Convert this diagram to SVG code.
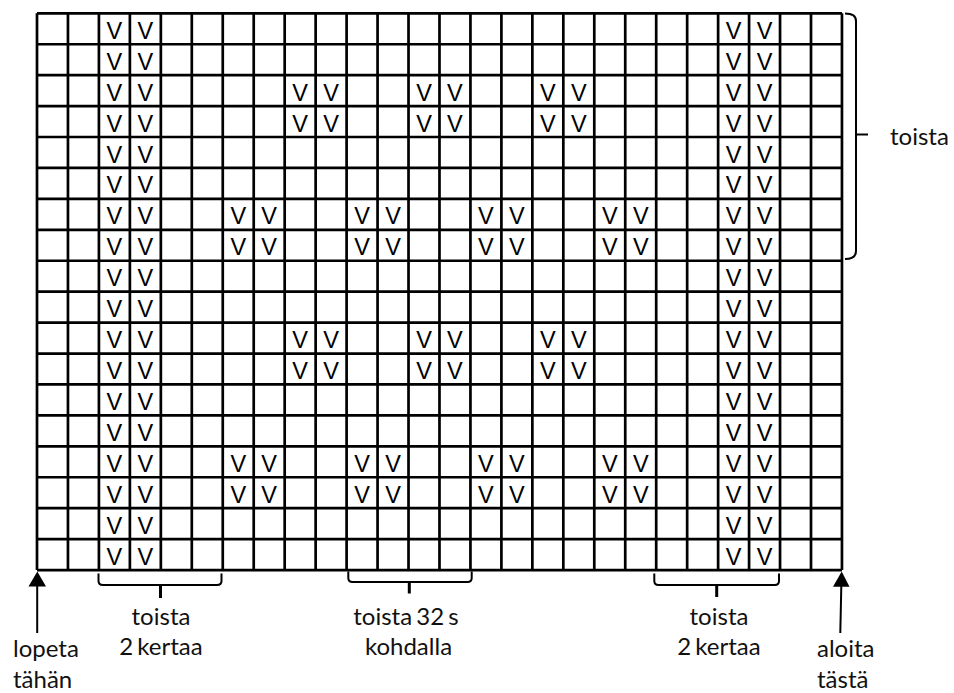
<svg xmlns="http://www.w3.org/2000/svg" width="954" height="693" viewBox="0 0 954 693">
<style>
.grid{fill:none;stroke:#000;stroke-width:2.7}
.v{font-family:"Liberation Sans",Arial,sans-serif;font-size:23.5px;fill:#000;text-anchor:middle}
.lbl{font-family:Lato,"Open Sans",sans-serif;font-size:24px;font-weight:400;fill:#111;word-spacing:-2px}
.mid{text-anchor:middle}
.brace{fill:none;stroke:#000;stroke-width:2}
.tick{fill:none;stroke:#000;stroke-width:3}
.shaft{fill:none;stroke:#000;stroke-width:2}
</style>
<rect width="954" height="693" fill="#fff"/>
<g id="grid">
<path class="grid" d="M37,13.3V570.04M67.96,13.3V570.04M98.92,13.3V570.04M129.88,13.3V570.04M160.84,13.3V570.04M191.8,13.3V570.04M222.76,13.3V570.04M253.72,13.3V570.04M284.68,13.3V570.04M315.64,13.3V570.04M346.6,13.3V570.04M377.56,13.3V570.04M408.52,13.3V570.04M439.48,13.3V570.04M470.44,13.3V570.04M501.4,13.3V570.04M532.36,13.3V570.04M563.32,13.3V570.04M594.28,13.3V570.04M625.24,13.3V570.04M656.2,13.3V570.04M687.16,13.3V570.04M718.12,13.3V570.04M749.08,13.3V570.04M780.04,13.3V570.04M811,13.3V570.04M841.96,13.3V570.04"/>
<path class="grid" d="M37,13.3H841.96M37,44.23H841.96M37,75.16H841.96M37,106.09H841.96M37,137.02H841.96M37,167.95H841.96M37,198.88H841.96M37,229.81H841.96M37,260.74H841.96M37,291.67H841.96M37,322.6H841.96M37,353.53H841.96M37,384.46H841.96M37,415.39H841.96M37,446.32H841.96M37,477.25H841.96M37,508.18H841.96M37,539.11H841.96M37,570.04H841.96"/>
</g>
<g id="stitches">
<text class="v" x="114.4 145.36 733.6 764.56" y="38.8">VVVV</text>
<text class="v" x="114.4 145.36 733.6 764.56" y="69.73">VVVV</text>
<text class="v" x="114.4 145.36 300.16 331.12 424 454.96 547.84 578.8 733.6 764.56" y="100.66">VVVVVVVVVV</text>
<text class="v" x="114.4 145.36 300.16 331.12 424 454.96 547.84 578.8 733.6 764.56" y="131.59">VVVVVVVVVV</text>
<text class="v" x="114.4 145.36 733.6 764.56" y="162.52">VVVV</text>
<text class="v" x="114.4 145.36 733.6 764.56" y="193.45">VVVV</text>
<text class="v" x="114.4 145.36 238.24 269.2 362.08 393.04 485.92 516.88 609.76 640.72 733.6 764.56" y="224.38">VVVVVVVVVVVV</text>
<text class="v" x="114.4 145.36 238.24 269.2 362.08 393.04 485.92 516.88 609.76 640.72 733.6 764.56" y="255.31">VVVVVVVVVVVV</text>
<text class="v" x="114.4 145.36 733.6 764.56" y="286.24">VVVV</text>
<text class="v" x="114.4 145.36 733.6 764.56" y="317.17">VVVV</text>
<text class="v" x="114.4 145.36 300.16 331.12 424 454.96 547.84 578.8 733.6 764.56" y="348.1">VVVVVVVVVV</text>
<text class="v" x="114.4 145.36 300.16 331.12 424 454.96 547.84 578.8 733.6 764.56" y="379.03">VVVVVVVVVV</text>
<text class="v" x="114.4 145.36 733.6 764.56" y="409.96">VVVV</text>
<text class="v" x="114.4 145.36 733.6 764.56" y="440.89">VVVV</text>
<text class="v" x="114.4 145.36 238.24 269.2 362.08 393.04 485.92 516.88 609.76 640.72 733.6 764.56" y="471.82">VVVVVVVVVVVV</text>
<text class="v" x="114.4 145.36 238.24 269.2 362.08 393.04 485.92 516.88 609.76 640.72 733.6 764.56" y="502.75">VVVVVVVVVVVV</text>
<text class="v" x="114.4 145.36 733.6 764.56" y="533.68">VVVV</text>
<text class="v" x="114.4 145.36 733.6 764.56" y="564.61">VVVV</text>
</g>
<g id="connectors">
<path class="brace" d="M845,13.6Q856,13.6 856,21V251Q856,259 845,259"/>
<path class="brace" d="M856,134.5H868"/>
<path class="brace" d="M98.5,573.5V581Q98.5,585 103,585H217Q221.5,585 221.5,581V573.5"/>
<path class="tick" d="M160.5,585V598"/>
<path class="brace" d="M348.3,571.5V578Q348.3,582 352.5,582H467.5Q471.7,582 471.7,578V571.5"/>
<path class="tick" d="M409.3,582V593.5"/>
<path class="brace" d="M654.3,573.5V581Q654.3,585 658.5,585H774.8Q779,585 779,581V573.5"/>
<path class="tick" d="M716.7,585V597"/>
<polygon points="37.3,571.5 28.5,586.5 46,586.5" fill="#000"/>
<path class="shaft" d="M37.2,586V633"/>
<polygon points="841.7,571.5 833,586.7 849.5,586.7" fill="#000"/>
<path class="shaft" d="M841.3,586L840.3,633"/>
</g>
<g id="labels">
<text class="lbl" x="890" y="145">toista</text>
<text class="lbl mid" x="161" y="625">toista</text>
<text class="lbl mid" x="161" y="655">2 kertaa</text>
<text class="lbl mid" x="406" y="625">toista 32 s</text>
<text class="lbl mid" x="408.5" y="655">kohdalla</text>
<text class="lbl mid" x="719" y="625">toista</text>
<text class="lbl mid" x="719" y="655">2 kertaa</text>
<text class="lbl" x="13" y="657">lopeta</text>
<text class="lbl" x="13" y="688">tähän</text>
<text class="lbl" x="817" y="657">aloita</text>
<text class="lbl" x="817" y="688">tästä</text>
</g>
</svg>
